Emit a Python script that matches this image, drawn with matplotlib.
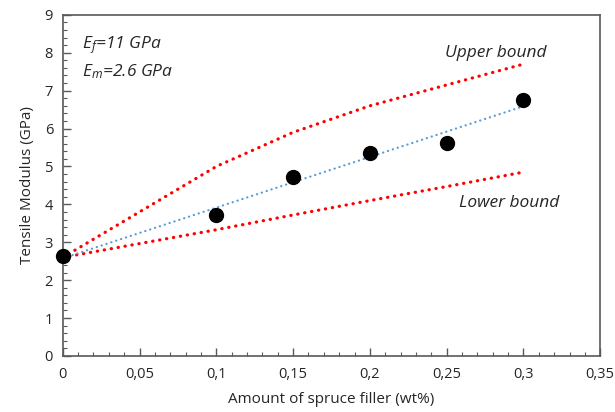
import numpy as np
import matplotlib
matplotlib.use("Agg")
import matplotlib.pyplot as plt
from matplotlib.ticker import MultipleLocator

plt.rcParams["font.family"] = ["Open Sans", "DejaVu Sans"]
plt.rcParams["mathtext.fontset"] = "custom"
plt.rcParams["mathtext.it"] = "Open Sans:italic"
plt.rcParams["mathtext.rm"] = "Open Sans:italic"

# measured tensile modulus (GPa) vs filler content (wt%)
filler = [0.0, 0.1, 0.15, 0.2, 0.25, 0.3]
modulus = [2.65, 3.72, 4.72, 5.36, 5.62, 6.76]

# rule-of-mixtures bounds
upper_bound = [2.6, 5.0, 5.9, 6.6, 7.15, 7.7]
lower_bound = [2.6, 3.33, 3.72, 4.1, 4.47, 4.85]

x_ticks = [0, 0.05, 0.1, 0.15, 0.2, 0.25, 0.3, 0.35]
x_tick_labels = ["0", "0,05", "0,1", "0,15", "0,2", "0,25", "0,3", "0,35"]
y_ticks = list(range(0, 10))

SPINE = "#595959"
TEXT = "#262626"

fig = plt.figure(figsize=(6.15, 4.12), dpi=100)
ax = fig.add_axes([0.102, 0.136, 0.874, 0.828])

dot = dict(dash_capstyle="round", solid_capstyle="round")
ax.plot(filler, upper_bound, color="#ff0000", lw=2.3, linestyle=(0, (0.1, 2.1)), **dot)
ax.plot(filler, lower_bound, color="#ff0000", lw=2.3, linestyle=(0, (0.1, 2.1)), **dot)

# linear trendline through the measurements
slope, icpt = np.polyfit(filler, modulus, 1)
xs = np.array([filler[0], filler[-1]])
ax.plot(xs, slope * xs + icpt, color="#5b9bd5", lw=1.6, linestyle=(0, (0.1, 2.2)), **dot)

ax.plot(filler, modulus, "o", color="black", markersize=10, zorder=5, clip_on=False)

ax.set_xlim(0, 0.35)
ax.set_ylim(0, 9)
ax.set_xticks(x_ticks)
ax.set_xticklabels(x_tick_labels)
ax.set_yticks(y_ticks)
ax.xaxis.set_minor_locator(MultipleLocator(0.01))
ax.yaxis.set_minor_locator(MultipleLocator(0.2))
ax.tick_params(which="major", direction="in", length=6, width=1, color=SPINE,
               labelsize=10.5, labelcolor=TEXT, pad=8)
ax.tick_params(which="minor", direction="in", length=3, width=0.8, color=SPINE)
ax.tick_params(axis="y", pad=7)
for s in ax.spines.values():
    s.set_color(SPINE)
    s.set_linewidth(1.2)

ax.set_xlabel("Amount of spruce filler (wt%)", fontsize=11, color=TEXT, labelpad=7)
ax.set_ylabel("Tensile Modulus (GPa)", fontsize=11, color=TEXT, labelpad=7)

txt = dict(fontsize=12.5, style="italic", color=TEXT)
ax.text(0.0125, 8.12, r"E$_f$=11 GPa", **txt)
ax.text(0.0125, 7.37, r"E$_m$=2.6 GPa", **txt)
ax.text(0.249, 7.88, "Upper bound", **txt)
ax.text(0.258, 3.93, "Lower bound", **txt)

fig.savefig("out.png", dpi=100)
